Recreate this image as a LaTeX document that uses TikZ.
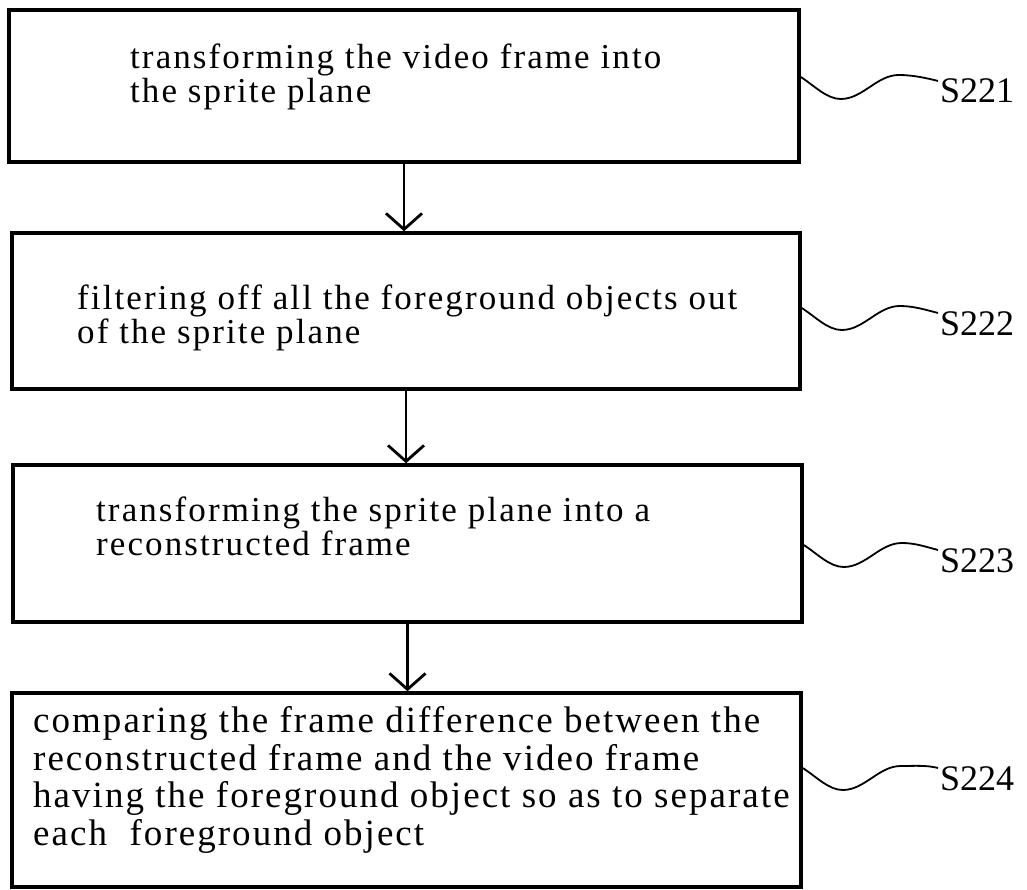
\documentclass[tikz,border=0pt]{standalone}
\usepackage{fontspec}
\setmainfont{Liberation Serif}
\usetikzlibrary{arrows.meta,calc}

\tikzset{
  stepbox/.style={draw, line width=3.5pt, inner sep=0pt},
  steptext/.style={anchor=base west, align=left, inner sep=0pt,
    font=\fontsize{35}{34}\selectfont\addfontfeatures{LetterSpace=6}},
  flow/.style={line width=2.8pt,
    -{Straight Barb[length=16pt,width=36pt,line width=2.8pt]}},
  wave/.style={line width=1.8pt},
  steplabel/.style={anchor=base west, inner sep=0pt,
    font=\fontsize{36}{36}\selectfont}
}

\begin{document}
\begin{tikzpicture}[x=1pt, y=-1pt]
    \useasboundingbox (0,0) rectangle (1027,890);

    % step boxes
    \node[stepbox, minimum width=790pt, minimum height=152pt] (s1) at (404,86) {};
    \node[stepbox, minimum width=788pt, minimum height=156pt] (s2) at (406,311) {};
    \node[stepbox, minimum width=789pt, minimum height=157pt] (s3) at (407.5,543.5) {};
    \node[stepbox, minimum width=789pt, minimum height=194pt] (s4) at (406.5,790) {};

    % texts (base = last line)
    \node[steptext] (t1) at (130,103) {transforming the video frame into\\the sprite plane};
    \node[steptext] (t2) at (77,343) {filtering off all the foreground objects out\\of the sprite plane};
    \node[steptext] (t3) at (96,555) {transforming the sprite plane into a\\reconstructed frame};
    \node[steptext, font=\fontsize{37}{37.5}\selectfont\addfontfeatures{LetterSpace=5.5}] (t4) at (33,845)
        {comparing the frame difference between the\\reconstructed frame and the video frame\\having the foreground object so as to separate\\each\ \ foreground object};

    % flow
    \draw[flow] (s1.south) -- (s1.south |- s2.north);
    \draw[flow] (s2.south) -- (s2.south |- s3.north);
    \draw[flow] (s3.south) -- (s3.south |- s4.north);

    % step numbers
    \foreach \n/\dy/\ly in {1/-9/103, 2/-3/335, 3/1.5/572, 4/-22/790} {
        \node[steplabel] (L\n) at (940,\ly) {S22\n};
        \draw[wave] ($(s\n.east)+(0,\dy)$)
            .. controls +(14,9) and +(-14,0) .. ++(40,22)
            .. controls +(22,0) and +(-22,0) .. ++(58,-24)
            .. controls +(14,0) and +(-12,-3) .. ($(L\n.north west)+(-2,2)$);
    }
\end{tikzpicture}
\end{document}
